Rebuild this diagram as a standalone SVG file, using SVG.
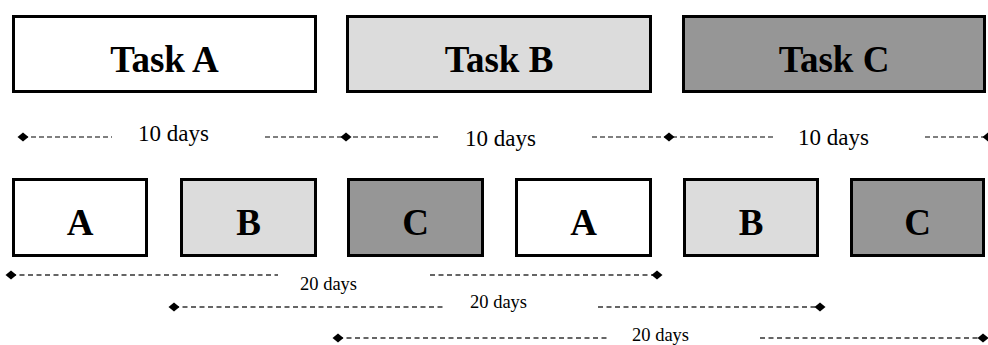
<svg xmlns="http://www.w3.org/2000/svg" width="988" height="345" viewBox="0 0 988 345">
<style>
.box{stroke:#000;stroke-width:3}
.w{fill:#fff}.l{fill:#dcdcdc}.d{fill:#969696}
.big{font-family:"Liberation Serif","Times New Roman",Times,serif;font-weight:bold;font-size:37px;text-anchor:middle;fill:#000}
.lab{font-family:"Liberation Serif","Times New Roman",Times,serif;font-size:23px;fill:#000}
.lab2{font-family:"Liberation Serif","Times New Roman",Times,serif;font-size:18.5px;fill:#000}
.dash{stroke:#000;stroke-width:1.2;stroke-dasharray:5 3;fill:none}
.dash2{stroke:#333;stroke-width:1.3;stroke-dasharray:5 3.5;fill:none}
.dia{fill:#000}
</style>
<defs>
<path id="dm" d="M-5.5,0 L0,-4.5 L5.5,0 L0,4.5 Z"/>
</defs>
<g id="taskA"><rect class="box w" x="13.5" y="16.5" width="302" height="75"/><text class="big" x="164.5" y="72">Task A</text></g>
<g id="taskB"><rect class="box l" x="347.5" y="16.5" width="303" height="75"/><text class="big" x="499" y="72">Task B</text></g>
<g id="taskC"><rect class="box d" x="683.5" y="16.5" width="301" height="75"/><text class="big" x="834" y="72">Task C</text></g>
<g id="a1"><rect class="box w" x="13.5" y="179.5" width="133" height="76"/><text class="big" x="80" y="235">A</text></g>
<g id="b1"><rect class="box l" x="181.5" y="179.5" width="134" height="76"/><text class="big" x="248.5" y="235">B</text></g>
<g id="c1"><rect class="box d" x="348.5" y="179.5" width="134" height="76"/><text class="big" x="415.5" y="235">C</text></g>
<g id="a2"><rect class="box w" x="516.5" y="179.5" width="134" height="76"/><text class="big" x="583.5" y="235">A</text></g>
<g id="b2"><rect class="box l" x="684.5" y="179.5" width="133" height="76"/><text class="big" x="751" y="235">B</text></g>
<g id="c2"><rect class="box d" x="851.5" y="179.5" width="132" height="76"/><text class="big" x="917.5" y="235">C</text></g>
<g id="connectors">
<path class="dash" d="M23,137 H112 M265,137 H440 M592,137 H775 M925,137 H987"/>
<use href="#dm" class="dia" x="23" y="137"/>
<use href="#dm" class="dia" x="346" y="137"/>
<use href="#dm" class="dia" x="669" y="137"/>
<use href="#dm" class="dia" x="988" y="137"/>
<text class="lab" x="138" y="141">10 days</text>
<text class="lab" x="465" y="146">10 days</text>
<text class="lab" x="798" y="145">10 days</text>
<path class="dash2" d="M11,275 H278 M430,275 H657 M174,307 H445 M598,307 H820 M338,338 H608 M760,338 H983"/>
<use href="#dm" class="dia" x="11" y="275"/>
<use href="#dm" class="dia" x="657" y="275"/>
<use href="#dm" class="dia" x="174" y="307"/>
<use href="#dm" class="dia" x="820" y="307"/>
<use href="#dm" class="dia" x="338" y="338"/>
<use href="#dm" class="dia" x="983" y="338"/>
<text class="lab2" x="300" y="290">20 days</text>
<text class="lab2" x="470" y="308">20 days</text>
<text class="lab2" x="632" y="340.5">20 days</text>
</g>
</svg>
